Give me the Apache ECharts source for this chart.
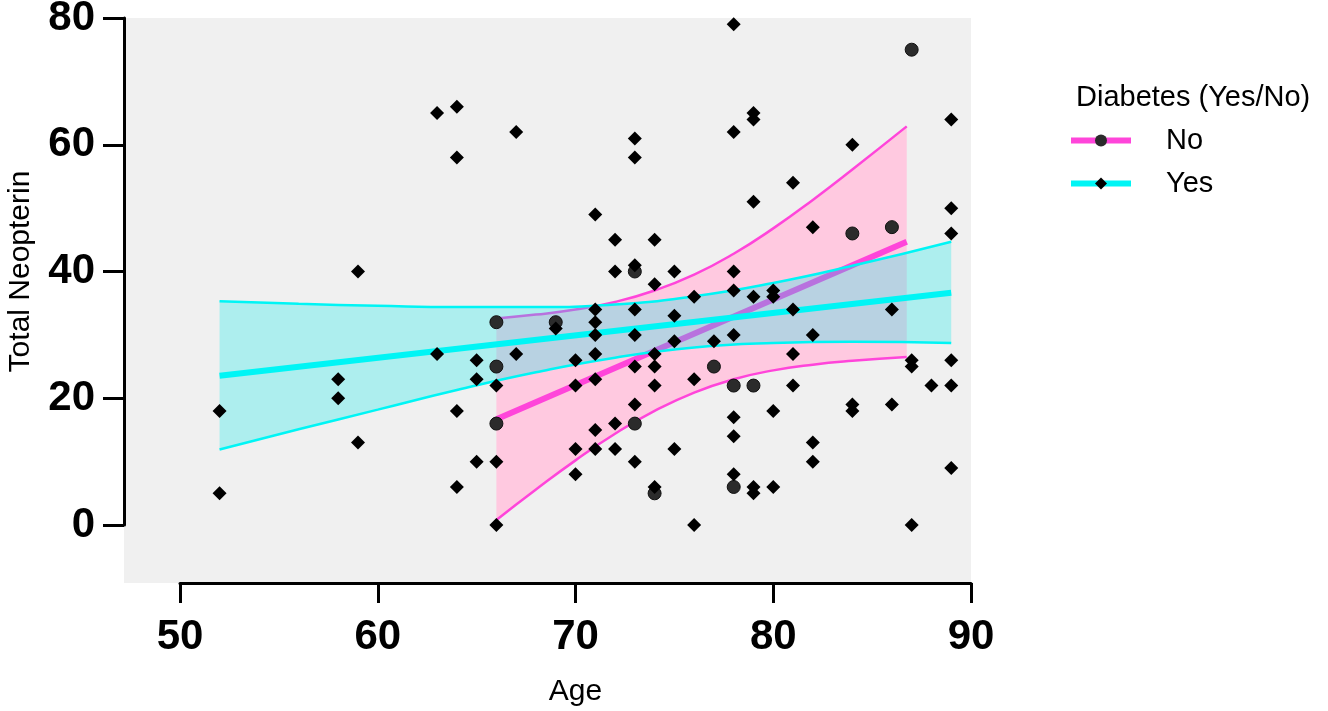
<!DOCTYPE html>
<html>
<head>
<meta charset="utf-8">
<title>Total Neopterin vs Age</title>
<script src="https://cdn.jsdelivr.net/npm/echarts@6.0.0/dist/echarts.min.js"></script>
<style>
  html, body { margin: 0; padding: 0; background: #fff; }
  #chart { width: 1328px; height: 711px; }
</style>
</head>
<body>
<div id="chart"></div>
<script>
// 数据：糖尿病 Yes 组（菱形）
var yesAge = [52, 52, 58, 58, 59, 59, 63, 63, 64, 64, 64, 64, 65, 65, 65, 66, 66, 66, 67, 67, 69,
  70, 70, 70, 70, 71, 71, 71, 71, 71, 71, 71, 71, 72, 72, 72, 72,
  73, 73, 73, 73, 73, 73, 73, 73, 74, 74, 74, 74, 74, 74, 75, 75, 75, 75, 76, 76, 76, 77,
  78, 78, 78, 78, 78, 78, 78, 78, 79, 79, 79, 79, 79, 79, 80, 80, 80, 80,
  81, 81, 81, 81, 82, 82, 82, 82, 84, 84, 84, 86, 86, 87, 87, 87, 88,
  89, 89, 89, 89, 89, 89];
var yesValue = [18, 5, 23, 20, 40, 13, 65, 27, 66, 58, 18, 6, 26, 23, 10, 22, 10, 0, 62, 27, 31,
  26, 22, 12, 8, 49, 34, 32, 30, 27, 23, 15, 12, 45, 40, 16, 12,
  61, 58, 41, 34, 30, 25, 19, 10, 45, 38, 27, 25, 22, 6, 40, 33, 29, 12, 36, 23, 0, 29,
  79, 62, 40, 37, 30, 17, 14, 8, 65, 64, 51, 36, 6, 5, 37, 36, 18, 6,
  54, 34, 27, 22, 47, 30, 13, 10, 60, 19, 18, 34, 19, 26, 25, 0, 22,
  64, 50, 46, 26, 22, 9];
// 糖尿病 No 组（圆点）
var noAge = [66, 66, 66, 69, 73, 73, 74, 77, 78, 78, 79, 84, 86, 87];
var noValue = [32, 25, 16, 32, 40, 16, 5, 25, 22, 6, 22, 46, 47, 75];

// 拟合直线（从图上读出的两端）
var noFitAge = [66, 86.75];
var noFitValue = [16.7, 44.7];
var yesFitAge = [52, 89];
var yesFitValue = [23.56, 36.66];

// 置信带（沿曲线读点）
var noBandAge = [66, 68, 70, 72, 74, 76, 78, 80, 82, 84, 86.75];
var noBandUpper = [32.6, 33.2, 34.0, 35.2, 37.0, 39.5, 42.8, 46.8, 51.3, 56.1, 62.9];
var noBandLower = [0.8, 5.6, 10.2, 14.4, 18.0, 20.9, 23.0, 24.4, 25.3, 25.9, 26.5];
var yesBandAge = [52, 56, 60, 64, 68, 72, 76, 80, 84, 89];
var yesBandUpper = [35.3, 34.9, 34.6, 34.4, 34.4, 34.8, 36.1, 38.2, 40.9, 44.7];
var yesBandLower = [11.9, 15.1, 18.2, 21.3, 24.1, 26.4, 28.0, 28.7, 28.9, 28.7];

// 刻度
var xTicks = [50, 60, 70, 80, 90];
var yTicks = [0, 20, 40, 60, 80];

(function () {
  var font = "'Liberation Sans', Arial, sans-serif";
  var pink = '#ff45da';
  var cyan = '#00f5f5';

  // 画布上的位置（像素）
  var boxLeft = 124, boxTop = 18, boxBottom = 583;
  var xStartPx = 180, xEndPx = 971, yZeroPx = 525;
  var W = 1328, H = 711;

  var xMin = xTicks[0], xMax = xTicks[xTicks.length - 1];
  var yMin = yTicks[0], yMax = yTicks[yTicks.length - 1];
  var pxPerX = (xEndPx - xStartPx) / (xMax - xMin);
  var pxPerY = (yZeroPx - boxTop) / (yMax - yMin);
  var dataXMin = xMin - (xStartPx - boxLeft) / pxPerX;
  var dataYMin = yMin - (boxBottom - yZeroPx) / pxPerY;

  function zip(a, b) {
    return a.map(function (v, i) { return [v, b[i]]; });
  }

  function band(ages, upper, lower, fill) {
    return function (params, api) {
      var pts = [];
      for (var i = 0; i < ages.length; i++) pts.push(api.coord([ages[i], upper[i]]));
      for (var j = ages.length - 1; j >= 0; j--) pts.push(api.coord([ages[j], lower[j]]));
      return { type: 'polygon', shape: { points: pts }, style: { fill: fill } };
    };
  }

  function thinLine(name, ages, vals, color, z) {
    return {
      name: name, type: 'line', xAxisIndex: 0, yAxisIndex: 0, z: z,
      data: zip(ages, vals), smooth: true, symbol: 'none',
      lineStyle: { color: color, width: 2.5 }, silent: true
    };
  }

  var axisLineStyle = { color: '#000', width: 3 };

  var myChart = echarts.init(document.getElementById('chart'));
  var option = {
    animation: false,
    backgroundColor: '#fff',
    title: {
      text: 'Diabetes (Yes/No)', left: 1071, top: 78,
      textStyle: { fontFamily: font, fontSize: 29, fontWeight: 'normal', color: '#000' }
    },
    legend: {
      orient: 'vertical', left: 1063, top: 121,
      itemWidth: 60, itemHeight: 15, itemGap: 14, selectedMode: false,
      lineStyle: { width: 6 },
      textStyle: { fontFamily: font, fontSize: 29, color: '#000', padding: [0, 0, 0, 30] },
      data: [
        { name: 'No', itemStyle: { color: '#2b2b2b', borderWidth: 0 } },
        { name: 'Yes', itemStyle: { color: '#000', borderWidth: 0 } }
      ]
    },
    grid: [
      // 数据区（灰色背景）
      { left: boxLeft, right: W - xEndPx, top: boxTop, bottom: H - boxBottom,
        show: true, backgroundColor: '#f0f0f0', borderWidth: 0, outerBoundsMode: 'none' },
      // X 轴显示
      { left: xStartPx, right: W - xEndPx, top: boxTop, bottom: H - boxBottom, outerBoundsMode: 'none' },
      // Y 轴显示
      { left: boxLeft, right: W - xEndPx, top: boxTop, bottom: H - yZeroPx, outerBoundsMode: 'none' }
    ],
    xAxis: [
      { gridIndex: 0, type: 'value', min: dataXMin, max: xMax, show: false },
      { gridIndex: 1, type: 'value', min: xMin, max: xMax, interval: xTicks[1] - xTicks[0],
        name: 'Age', nameLocation: 'middle', nameGap: 94,
        nameTextStyle: { fontFamily: font, fontSize: 30, color: '#000' },
        axisLine: { lineStyle: axisLineStyle },
        axisTick: { length: 20, lineStyle: axisLineStyle },
        axisLabel: { fontFamily: font, fontSize: 42, fontWeight: 'bold', color: '#000', margin: 33 },
        splitLine: { show: false } },
      { gridIndex: 2, type: 'value', min: 0, max: 1, show: false }
    ],
    yAxis: [
      { gridIndex: 0, type: 'value', min: dataYMin, max: yMax, show: false },
      { gridIndex: 1, type: 'value', min: 0, max: 1, show: false },
      { gridIndex: 2, type: 'value', min: yMin, max: yMax, interval: yTicks[1] - yTicks[0],
        name: 'Total Neopterin', nameLocation: 'middle', nameRotate: 90, nameGap: 88,
        nameTextStyle: { fontFamily: font, fontSize: 30, color: '#000' },
        axisLine: { lineStyle: axisLineStyle },
        axisTick: { length: 21, lineStyle: axisLineStyle },
        axisLabel: { fontFamily: font, fontSize: 42, fontWeight: 'bold', color: '#000', margin: 29 },
        splitLine: { show: false } }
    ],
    series: [
      // No 组置信带
      { type: 'custom', name: 'No band', xAxisIndex: 0, yAxisIndex: 0, z: 1, silent: true,
        data: [[noBandAge[0], noBandUpper[0]]],
        renderItem: band(noBandAge, noBandUpper, noBandLower, '#ffc9e0') },
      thinLine('No upper', noBandAge, noBandUpper, pink, 2),
      thinLine('No lower', noBandAge, noBandLower, pink, 2),
      { name: 'No', type: 'line', xAxisIndex: 0, yAxisIndex: 0, z: 2,
        data: zip(noFitAge, noFitValue), symbol: 'circle', showSymbol: false,
        lineStyle: { color: pink, width: 6 }, itemStyle: { color: pink }, silent: true },
      // Yes 组置信带（半透明，盖在 No 组线上）
      { type: 'custom', name: 'Yes band', xAxisIndex: 0, yAxisIndex: 0, z: 3, silent: true,
        data: [[yesBandAge[0], yesBandUpper[0]]],
        renderItem: band(yesBandAge, yesBandUpper, yesBandLower, 'rgba(0,235,235,0.28)') },
      thinLine('Yes upper', yesBandAge, yesBandUpper, cyan, 4),
      thinLine('Yes lower', yesBandAge, yesBandLower, cyan, 4),
      { name: 'Yes', type: 'line', xAxisIndex: 0, yAxisIndex: 0, z: 4,
        data: zip(yesFitAge, yesFitValue), symbol: 'diamond', showSymbol: false,
        lineStyle: { color: cyan, width: 6 }, itemStyle: { color: cyan }, silent: true },
      // 散点
      { name: 'No points', type: 'scatter', xAxisIndex: 0, yAxisIndex: 0, z: 5,
        data: zip(noAge, noValue), symbol: 'circle', symbolSize: 13,
        itemStyle: { color: '#2b2b2b', borderColor: '#111', borderWidth: 1, opacity: 1 } },
      { name: 'Yes points', type: 'scatter', xAxisIndex: 0, yAxisIndex: 0, z: 5,
        data: zip(yesAge, yesValue), symbol: 'diamond', symbolSize: 14,
        itemStyle: { color: '#000', opacity: 1 } }
    ]
  };
  myChart.setOption(option);
})();
</script>
</body>
</html>
